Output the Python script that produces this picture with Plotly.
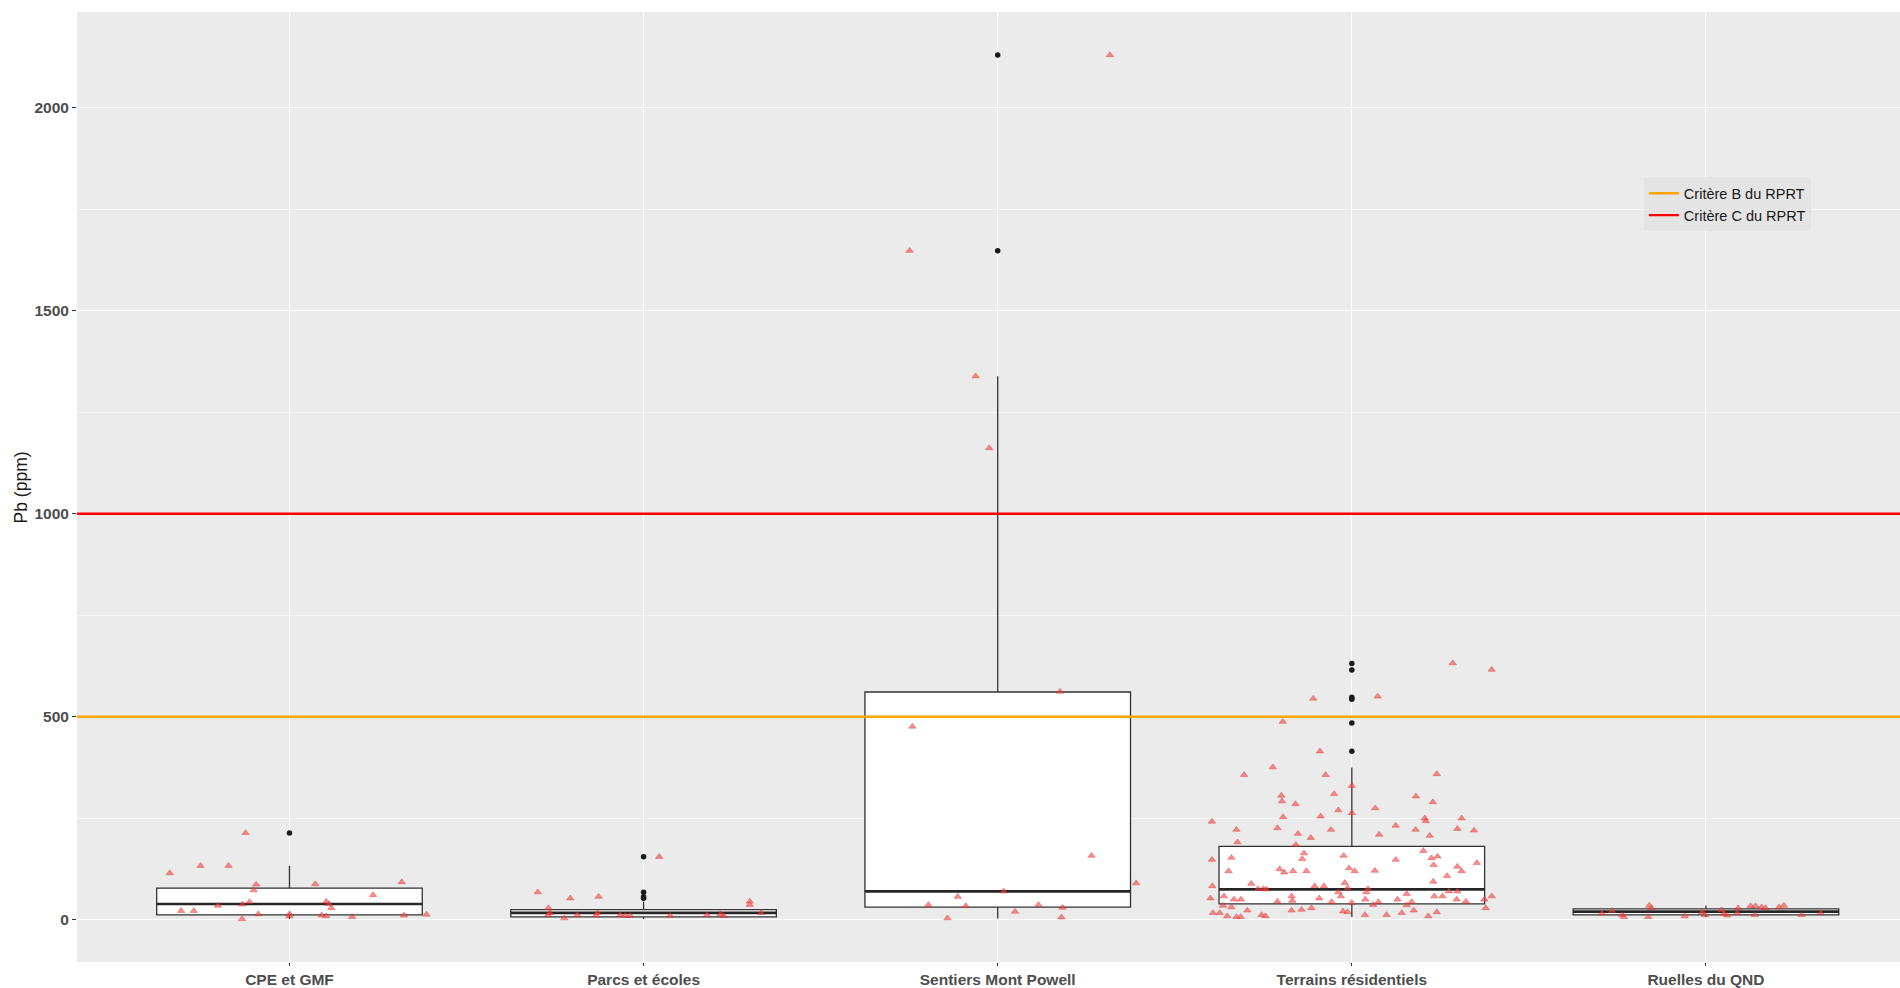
import plotly.graph_objects as go

# ---------------- data ----------------
categories = ["CPE et GMF", "Parcs et écoles", "Sentiers Mont Powell",
              "Terrains résidentiels", "Ruelles du QND"]

# box statistics per category
q1_vals = [12, 7, 31, 39, 12]
median_vals = [39, 17, 70, 75, 20]
q3_vals = [78, 25, 561, 181, 27]
lower_whisker = [2, 2, 3, 7, 6]
upper_whisker = [133, 45, 1339, 375, 35]

# boxplot outliers per category
cpe_out = [214]
parcs_out = [53, 57, 68, 155]
sent_out = [1648, 2130]
terr_out = [415, 485, 543, 548, 615, 631]
ruel_out = []

# individual samples (Pb, ppm) and their horizontal jitter (category units)
cpe_pb = [214, 133, 133, 115, 87, 73, 88, 93, 61, 44, 38, 35, 45, 39, 29,
          22, 22, 14, 2, 14, 11, 9, 7, 11, 13, 9]
cpe_jit = [-0.124, -0.251, -0.172, -0.338, -0.094, -0.101, 0.073, 0.317, 0.236,
           -0.113, -0.133, -0.202, 0.104, 0.112, 0.118, -0.306, -0.27, -0.088,
           -0.134, 0.0, 0.091, 0.104, 0.177, 0.323, 0.387, 0.0]

parcs_pb = [155, 68, 53, 57, 45, 37, 29, 17, 12, 4, 12, 11, 17, 12, 10, 10,
            10, 12, 14, 10, 17]
parcs_jit = [0.044, -0.299, -0.207, -0.127, 0.3, 0.3, -0.269, -0.264, -0.27,
             -0.224, -0.187, -0.134, -0.13, -0.066, -0.052, -0.038, 0.075,
             0.179, 0.217, 0.226, 0.332]

sent_pb = [2130, 1648, 1339, 1162, 562, 476, 158, 90, 70, 57, 37, 34, 37, 30,
           20, 4, 6]
sent_jit = [0.317, -0.249, -0.062, -0.024, 0.176, -0.241, 0.265, 0.391, 0.017,
            -0.113, -0.196, -0.09, 0.115, 0.183, 0.049, -0.142, 0.18]

terr_pb = [632, 616, 545, 550, 488, 415, 376, 357, 357, 359, 330, 310, 306, 292,
           285, 304, 290, 270, 275, 263,
           242, 253, 255, 250, 243, 250, 222, 226, 212, 202, 222, 191, 185, 210,
           232, 222, 207, 224, 220, 170, 153, 148, 164, 150, 158, 148, 152, 156,
           135, 140, 120, 125, 117, 120, 120, 127, 120, 121, 131, 120, 108, 94,
           83, 89, 76, 76, 75, 83, 83, 91, 78, 76, 68, 64, 70, 70, 53, 58, 50,
           50, 45, 58, 47, 53, 44, 58, 42, 50, 37, 44, 50, 44, 58, 58, 50, 45,
           50, 58, 35, 31, 23, 17, 17, 9, 7, 7, 12, 9, 23, 25, 29, 21, 19, 12,
           12, 17, 23, 9, 19, 29, 68, 36]
terr_jit = [0.285, 0.395, -0.109, 0.073, -0.195, -0.09, -0.223, -0.304, -0.074,
            0.24, 0.0, -0.05, -0.199, -0.197, -0.159, 0.181, 0.229, -0.038,
            0.066, 0.0,
            -0.395, -0.194, -0.088, 0.206, 0.209, 0.31, -0.326, -0.21, -0.152,
            -0.116, -0.059, -0.323, -0.158, 0.077, 0.124, 0.18, 0.22, 0.298,
            0.345, 0.202, -0.34, -0.395, -0.135, -0.14, -0.023, 0.124, 0.225,
            0.242, 0.231, 0.353, -0.348, -0.204, -0.191, -0.166, -0.128, -0.008,
            0.008, 0.065, 0.298, 0.31, 0.269, 0.23, -0.394, -0.284, -0.265,
            -0.25, -0.241, -0.105, -0.079, -0.02, -0.012, 0.046, 0.041, 0.155,
            0.274, 0.298, -0.399, -0.361, -0.333, -0.313, -0.21, -0.17, -0.168,
            -0.092, -0.057, -0.031, 0.0, 0.038, 0.06, 0.075, 0.129, 0.169, 0.233,
            0.256, 0.296, 0.322, 0.374, 0.395, -0.364, -0.34, -0.295, -0.392,
            -0.373, -0.352, -0.326, -0.314, -0.255, -0.244, -0.17, -0.142,
            -0.114, -0.025, -0.012, 0.037, 0.098, 0.141, 0.175, 0.216, 0.24,
            0.378, -0.038, 0.155]

ruel_pb = [16, 22, 12, 7, 35, 29, 7, 9, 19, 12, 24, 15, 11, 29, 17, 34, 34, 31,
           12, 31, 35, 12, 17, 29]
ruel_jit = [-0.294, -0.265, -0.237, -0.232, -0.16, -0.154, -0.163, -0.06, -0.011,
            -0.003, 0.044, 0.05, 0.06, 0.091, 0.088, 0.126, 0.14, 0.157, 0.138,
            0.206, 0.22, 0.27, 0.324, 0.168]

critere_names = ["Critère B du RPRT", "Critère C du RPRT"]
critere_values = [500, 1000]

samples = [cpe_pb, parcs_pb, sent_pb, terr_pb, ruel_pb]
jitters = [cpe_jit, parcs_jit, sent_jit, terr_jit, ruel_jit]
outliers = [cpe_out, parcs_out, sent_out, terr_out, ruel_out]

# ---------------- styles ----------------
FONT = "Liberation Sans"
BOX_W = 0.75
x_range = [-0.6, 4.548]
y_range = [-104, 2236]
critere_colors = ["#FFA500", "#FF0000"]

fig = go.Figure()

# boxes
for i, cat in enumerate(categories):
    fig.add_trace(go.Box(
        x=[i], q1=[q1_vals[i]], median=[median_vals[i]], q3=[q3_vals[i]],
        lowerfence=[lower_whisker[i]], upperfence=[upper_whisker[i]],
        width=BOX_W, whiskerwidth=0, boxpoints=False,
        fillcolor="white", line=dict(color="#333333", width=1.3),
        hoverinfo="skip", showlegend=False, name=cat))

# thicker median lines (ggplot style)
mx, my = [], []
for i, m in enumerate(median_vals):
    mx += [i - BOX_W / 2, i + BOX_W / 2, None]
    my += [m, m, None]
fig.add_trace(go.Scatter(x=mx, y=my, mode="lines",
                         line=dict(color="#262626", width=2.6),
                         showlegend=False, hoverinfo="skip"))

# criteria lines
for name, val, col in zip(critere_names, critere_values, critere_colors):
    fig.add_trace(go.Scatter(x=x_range, y=[val, val], mode="lines", name=name,
                             line=dict(color=col, width=2.4)))

# outliers (black dots)
ox, oy = [], []
for i, outs in enumerate(outliers):
    ox += [i] * len(outs)
    oy += outs
fig.add_trace(go.Scatter(x=ox, y=oy, mode="markers",
                         marker=dict(color="#1a1a1a", size=5.5, symbol="circle"),
                         showlegend=False, hoverinfo="skip"))

# jittered samples (red triangles)
jx, jy = [], []
for i, (vals, jit) in enumerate(zip(samples, jitters)):
    jx += [i + j for j in jit]
    jy += vals
fig.add_trace(go.Scatter(x=jx, y=jy, mode="markers",
                         marker=dict(color="rgba(240,70,70,0.6)", size=6.5,
                                     symbol="triangle-up",
                                     line=dict(color="rgba(220,30,30,0.6)", width=0.6)),
                         showlegend=False, hoverinfo="skip"))

fig.update_layout(
    width=1900, height=988,
    margin=dict(l=77, r=0, t=12, b=19),
    paper_bgcolor="white", plot_bgcolor="#ebebeb",
    font=dict(family=FONT, color="#1a1a1a"),
    legend=dict(x=0.8595, y=0.826, xanchor="left", yanchor="top",
                bgcolor="#e4e4e4", borderwidth=0, itemwidth=30,
                font=dict(family=FONT, size=14.5, color="#1a1a1a"),
                tracegroupgap=0),
    annotations=[dict(text="Pb (ppm)", xref="paper", yref="paper",
                      x=-0.0305, y=0.5, xanchor="center", yanchor="middle",
                      textangle=-90, showarrow=False,
                      font=dict(family=FONT, size=17.5, color="#1a1a1a"))],
)
fig.update_xaxes(
    range=x_range, tickmode="array", tickvals=list(range(len(categories))),
    ticktext=categories, showgrid=True, gridcolor="white", gridwidth=1.4,
    zeroline=False, ticks="outside", ticklen=3, tickwidth=1.2, tickcolor="#333333",
    tickfont=dict(family=FONT, size=15.5, color="#4d4d4d", weight="bold"),
    showline=False,
)
fig.update_yaxes(
    range=y_range, tickmode="linear", tick0=0, dtick=500,
    showgrid=True, gridcolor="white", gridwidth=1.4, zeroline=False,
    ticks="outside", ticklen=4, tickwidth=1.2, tickcolor="#333333",
    tickfont=dict(family=FONT, size=15.5, color="#4d4d4d", weight="bold"),
    minor=dict(dtick=250, tick0=0, showgrid=True, gridcolor="#f7f7f7",
               gridwidth=0.7, ticklen=0),
    showline=False,
)

fig.write_html("out.html",
               config={"displayModeBar": False},
               post_script="document.body.style.margin='0px';"
                           "document.body.style.overflow='hidden';")
